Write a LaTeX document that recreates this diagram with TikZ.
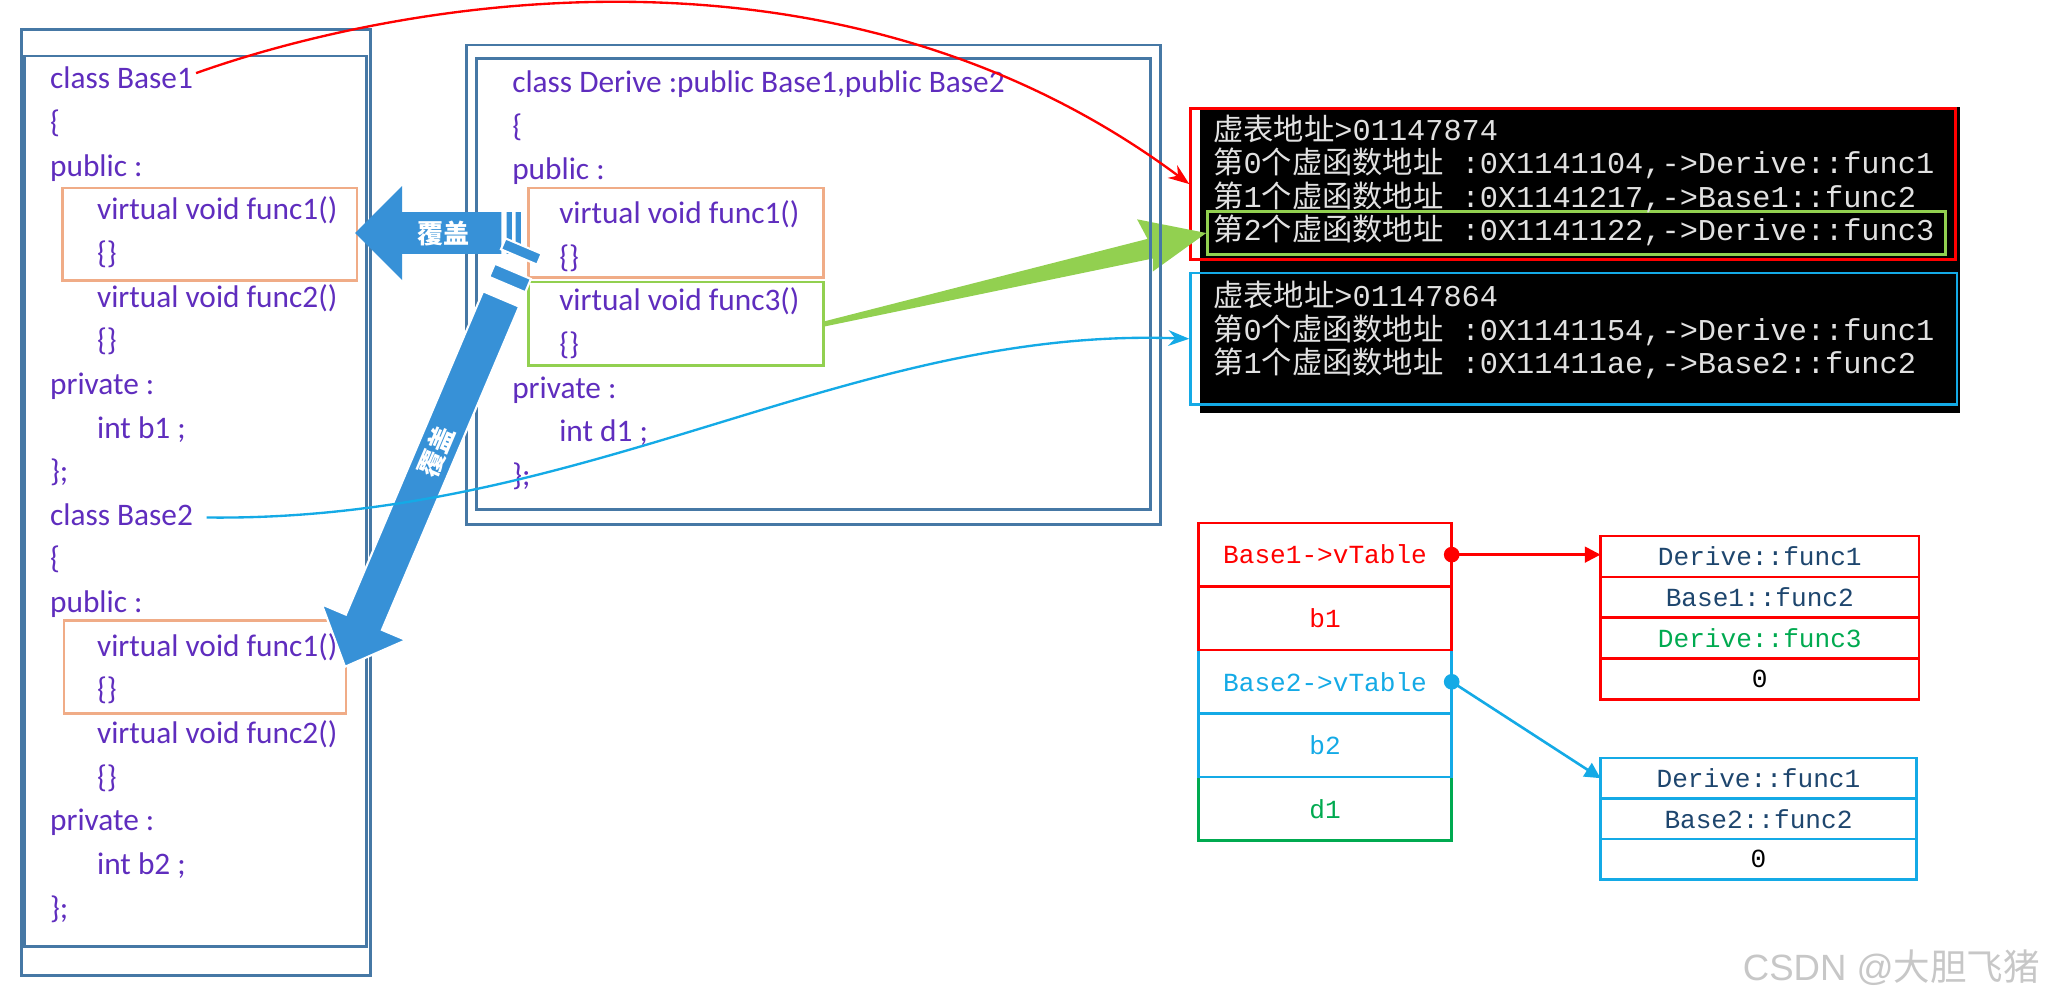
\documentclass[tikz,border=0pt]{standalone}
\usepackage{fontspec}
\setmainfont{Carlito}
\newfontfamily\consolefont{Liberation Mono}
\newfontfamily\cjk{Noto Sans CJK SC}
\newfontfamily\wmfont{Liberation Sans}
\usetikzlibrary{arrows.meta,positioning,fit,calc}
\newcommand{\zh}[1]{{\cjk #1}}
\newcommand{\codesep}{16.72pt}
\newcommand{\consep}{12.8pt}
\definecolor{codetext}{RGB}{95,45,190}
\definecolor{framecol}{RGB}{70,120,165}
\definecolor{boxorange}{RGB}{240,172,135}
\definecolor{boxgreen}{RGB}{146,208,80}
\definecolor{arrblue}{RGB}{55,145,215}
\definecolor{arrgreen}{RGB}{146,208,80}
\definecolor{tblue}{RGB}{20,170,230}
\definecolor{tgreen}{RGB}{0,170,80}
\definecolor{tdark}{RGB}{30,70,110}
\definecolor{context}{RGB}{225,225,225}

\begin{document}
\begin{tikzpicture}[x=0.5pt, y=-0.5pt,
  code/.style={font=\fontsize{12}{14}\selectfont, text=codetext, anchor=west, inner sep=0pt, text height=9pt, text depth=3pt},
  clsframe/.style={draw=framecol, line width=1.1pt, inner sep=0pt},
  hlbox/.style={line width=1pt, inner sep=0pt},
  con/.style={font=\consolefont\fontsize{11.6}{13}\selectfont, text=context, anchor=west, inner sep=0pt, text height=9pt, text depth=2.5pt},
  cell/.style={line width=1pt, minimum width=97pt, minimum height=24.35pt, inner sep=0pt, outer sep=0pt, font=\consolefont\fontsize{10}{12}\selectfont},
  vcell/.style={cell, minimum width=122pt, minimum height=15.65pt},
  ptr/.style={line width=1pt, -{Triangle[length=6pt,width=6pt]}},
  link/.style={line width=0.9pt, -{Stealth[length=8pt,width=6pt]}},
  ovlabel/.style={font=\cjk\bfseries\fontsize{10}{12}\selectfont, text=white, inner sep=0pt}]
  \path[fill=white, use as bounding box] (0,0) rectangle (1568,765);

  % class Base1 / Base2
  \node[code] (b1a) at (38,62) {class Base1};
  \node[code, below=\codesep of b1a.west, anchor=west] (b1b) {\{};
  \node[code, below=\codesep of b1b.west, anchor=west] (b1c) {public :};
  \node[code, below=\codesep of b1c.west, anchor=west, xshift=18pt] (b1d) {virtual void func1()};
  \node[code, below=\codesep of b1d.west, anchor=west] (b1e) {\{\}};
  \node[code, below=\codesep of b1e.west, anchor=west] (b1f) {virtual void func2()};
  \node[code, below=\codesep of b1f.west, anchor=west] (b1g) {\{\}};
  \node[code, below=\codesep of b1g.west, anchor=west, xshift=-18pt] (b1h) {private :};
  \node[code, below=\codesep of b1h.west, anchor=west, xshift=18pt] (b1i) {int b1 ;};
  \node[code, below=\codesep of b1i.west, anchor=west, xshift=-18pt] (b1j) {\};};
  \node[code, below=\codesep of b1j.west, anchor=west] (b2a) {class Base2};
  \node[code, below=\codesep of b2a.west, anchor=west] (b2b) {\{};
  \node[code, below=\codesep of b2b.west, anchor=west] (b2c) {public :};
  \node[code, below=\codesep of b2c.west, anchor=west, xshift=18pt] (b2d) {virtual void func1()};
  \node[code, below=\codesep of b2d.west, anchor=west] (b2e) {\{\}};
  \node[code, below=\codesep of b2e.west, anchor=west] (b2f) {virtual void func2()};
  \node[code, below=\codesep of b2f.west, anchor=west] (b2g) {\{\}};
  \node[code, below=\codesep of b2g.west, anchor=west, xshift=-18pt] (b2h) {private :};
  \node[code, below=\codesep of b2h.west, anchor=west, xshift=18pt] (b2i) {int b2 ;};
  \node[code, below=\codesep of b2i.west, anchor=west, xshift=-18pt] (b2j) {\};};
  \node[hlbox, draw=boxorange, fit={(48,144)(273.5,215)}] (b1f1) {};
  \node[hlbox, draw=boxorange, fit={(49,475.5)(265,546.5)}] (b2f1) {};

  % class Derive
  \node[code] (da) at (392,65) {class Derive :public Base1,public Base2};
  \node[code, below=\codesep of da.west, anchor=west] (db) {\{};
  \node[code, below=\codesep of db.west, anchor=west] (dc) {public :};
  \node[code, below=\codesep of dc.west, anchor=west, xshift=18pt] (dd) {virtual void func1()};
  \node[code, below=\codesep of dd.west, anchor=west] (de) {\{\}};
  \node[code, below=\codesep of de.west, anchor=west] (df) {virtual void func3()};
  \node[code, below=\codesep of df.west, anchor=west] (dg) {\{\}};
  \node[code, below=\codesep of dg.west, anchor=west, xshift=-18pt] (dh) {private :};
  \node[code, below=\codesep of dh.west, anchor=west, xshift=18pt] (di) {int d1 ;};
  \node[code, below=\codesep of di.west, anchor=west, xshift=-18pt] (dj) {\};};
  \node[hlbox, draw=boxorange, fit={(405,144)(631,212.5)}] (df1) {};
  \node[hlbox, draw=boxgreen, fit={(405,216)(631,280)}] (df3) {};

  % console output
  \node[fill=black, inner sep=0pt, fit={(919,82)(1501,316)}] (console) {};
  \node[hlbox, draw=red, fit={(912,83)(1498,199)}] (conred) {};
  \node[hlbox, draw=tblue, fit={(912,209)(1499,310)}] (conblue) {};
  \node[hlbox, draw=boxgreen, fit={(925,162)(1490,195)}] (conrow) {};
  \node[con] (con1) at (929,100.9) {\zh{虚表地址}>01147874};
  \node[con, below=\consep of con1.west, anchor=west] (con2) {\zh{第}0\zh{个虚函数地址} :0X1141104,->Derive::func1};
  \node[con, below=\consep of con2.west, anchor=west] (con3) {\zh{第}1\zh{个虚函数地址} :0X1141217,->Base1::func2};
  \node[con, below=\consep of con3.west, anchor=west] (con4) {\zh{第}2\zh{个虚函数地址} :0X1141122,->Derive::func3};
  \node[con] (con5) at (929,228.5) {\zh{虚表地址}>01147864};
  \node[con, below=\consep of con5.west, anchor=west] (con6) {\zh{第}0\zh{个虚函数地址} :0X1141154,->Derive::func1};
  \node[con, below=\consep of con6.west, anchor=west] (con7) {\zh{第}1\zh{个虚函数地址} :0X11411ae,->Base2::func2};

  % func3 goes into the first table
  \fill[arrgreen] ($(df3.east)+(0,-2)$) -- ($(conrow.west)+(-45,4.5)$) -- ($(conrow.west)+(-53,-10.5)$) -- (conrow.west)
    -- ($(conrow.west)+(-41,29.5)$) -- ($(conrow.west)+(-41,19.5)$) -- ($(df3.east)+(0,2)$) -- cycle;

  % frames
  \node[clsframe, fit={(16.4,22.5)(283.7,747.4)}] (bout) {};
  \node[clsframe, fit={(18.8,42.9)(281,725.1)}] (bin) {};
  \node[clsframe, fit={(357.5,34.5)(888.7,402)}] (dout) {};
  \node[clsframe, fit={(364.8,44.7)(881.3,390.6)}] (din) {};

  % override arrows
  \begin{scope}[shift={(272,178.5)}]
    \fill[arrblue] (0,0) -- (36,-36) -- (36,-16) -- (112,-16) -- (112,16) -- (36,16) -- (36,36) -- cycle;
    \fill[arrblue] (116,-16) rectangle (120,16) (123,-16) rectangle (127,16);
    \node[ovlabel] (ov1) at (68,0) {覆盖};
  \end{scope}
  \begin{scope}[shift={(264.3,510.7)}, rotate=67]
    \filldraw[arrblue, draw=white, line width=0.8pt] (0,0) -- (37,-35) -- (37,-15) -- (306,-15) -- (306,15) -- (37,15) -- (37,35) -- cycle;
    \filldraw[arrblue, draw=white, line width=0.8pt] (318,-15) rectangle (329,15) (341,-15) rectangle (350,15);
    \node[ovlabel, rotate=67] (ov2) at (179,0) {覆盖};
  \end{scope}

  % object layout
  \node[cell, draw=tgreen, text=tgreen] (md1) at (1015,619.65) {d1};
  \node[cell, draw=tblue, text=tblue, above=0pt of md1] (mb2) {b2};
  \node[cell, draw=tblue, text=tblue, above=0pt of mb2] (mB2v) {Base2->vTable};
  \node[cell, draw=red, text=red, above=0pt of mB2v] (mb1) {b1};
  \node[cell, draw=red, text=red, above=0pt of mb1] (mB1v) {Base1->vTable};

  % vtables
  \node[vcell, draw=red, text=tdark] (vt1a) at (1348,426.25) {Derive::func1};
  \node[vcell, draw=red, text=tdark, below=0pt of vt1a] (vt1b) {Base1::func2};
  \node[vcell, draw=red, text=tgreen, below=0pt of vt1b] (vt1c) {Derive::func3};
  \node[vcell, draw=red, text=black, below=0pt of vt1c] (vt1d) {0};
  \node[vcell, draw=tblue, text=tdark, minimum width=121pt, minimum height=15.5pt] (vt2a) at (1347,596.1) {Derive::func1};
  \node[vcell, draw=tblue, text=tdark, minimum width=121pt, minimum height=15.5pt, below=0pt of vt2a] (vt2b) {Base2::func2};
  \node[vcell, draw=tblue, text=black, minimum width=121pt, minimum height=15.5pt, below=0pt of vt2b] (vt2c) {0};

  \draw[ptr, red] (mB1v.east) -- (mB1v.east -| vt1a.west);
  \draw[ptr, tblue] (mB2v.east) -- (vt2a.west);
  \fill[red] (mB1v.east) circle[radius=3pt];
  \fill[tblue] (mB2v.east) circle[radius=3pt];

  % class to table
  \draw[link, red] ([shift={(2,-6)}]b1a.east) .. controls (293,5) and (634,-65) .. (conred.west);
  \draw[link, tblue] ([xshift=5pt]b2a.east) .. controls (450,400) and (650,250) .. (conblue.west);

  \node[font=\wmfont\fontsize{14}{16}\selectfont, text=black!22, anchor=east, inner sep=0pt] (mark) at (1563,741) {CSDN @\zh{大胆飞猪}};
\end{tikzpicture}
\end{document}
